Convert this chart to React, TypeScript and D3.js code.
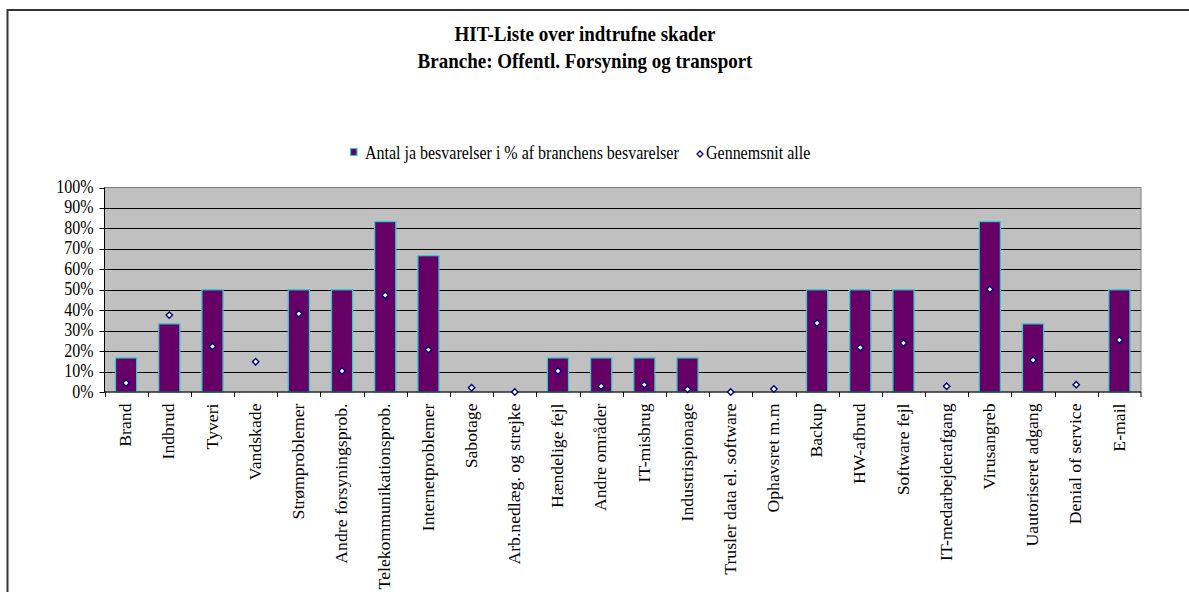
import React from "react";
import * as d3 from "d3";

const categories = [
  "Brand", "Indbrud", "Tyveri", "Vandskade", "Strømproblemer", "Andre forsyningsprob.",
  "Telekommunikationsprob.", "Internetproblemer", "Sabotage", "Arb.nedlæg. og strejke",
  "Hændelige fejl", "Andre områder", "IT-misbrug", "Industrispionage",
  "Trusler data el. software", "Ophavsret m.m", "Backup", "HW-afbrud", "Software fejl",
  "IT-medarbejderafgang", "Virusangreb", "Uautoriseret adgang", "Denial of service", "E-mail",
];
const branchValues = [16.67, 33.33, 50, 0, 50, 50, 83.33, 66.67, 0, 0, 16.67, 16.67, 16.67, 16.67, 0, 0, 50, 50, 50, 0, 83.33, 33.33, 0, 50];
const averageValues = [4.4, 37.6, 22.3, 14.8, 38.3, 10.3, 47.3, 20.7, 2.1, 0, 10.3, 2.8, 3.6, 1.3, 0, 1.5, 33.7, 21.7, 24.0, 2.8, 50.2, 15.6, 3.6, 25.4];
const yTicks = [0, 10, 20, 30, 40, 50, 60, 70, 80, 90, 100];
const titleLines = ["HIT-Liste over indtrufne skader", "Branche: Offentl. Forsyning og transport"];
const legendLabels = ["Antal ja besvarelser i % af branchens besvarelser", "Gennemsnit alle"];

const FONT = "'Liberation Serif', 'Times New Roman', serif";
const SY = 1.12;
const PURPLE = "#660066";
const TURQ = "#33CCCC";
const NAVY = "#000080";

export default function App() {
  const left = 104.5, right = 1141, top = 187.5, bottom = 392;
  const x = d3.scaleBand<string>().domain(categories).range([left, right]).padding(0);
  const y = d3.scaleLinear().domain([0, 100]).range([bottom, top]);
  const bw = x.bandwidth() * 0.49;
  const diamond = (cx: number, cy: number, r: number) =>
    `M${cx},${cy - r}L${cx + r},${cy}L${cx},${cy + r}L${cx - r},${cy}Z`;

  return (
    <svg width={1189} height={592} style={{ position: "absolute", left: 0, top: 0, background: "#fff" }}>
      <rect x={7.5} y={10} width={2000} height={2000} fill="#fff" stroke="#333" strokeWidth={2} />
      {titleLines.map((t, i) => (
        <text key={i} transform={`translate(585,${41 + i * 27}) scale(1,${SY})`} textAnchor="middle"
          fontFamily={FONT} fontWeight="bold" fontSize={19} fill="#000">{t}</text>
      ))}
      {/* legend */}
      <rect x={350.5} y={148.5} width={6.5} height={7} fill={PURPLE} stroke={TURQ} strokeWidth={1.2} />
      <text transform={`translate(365,159) scale(1,${SY})`} fontFamily={FONT} fontSize={16} fill="#000">{legendLabels[0]}</text>
      <path d={diamond(700, 154, 3)} fill="#fff" stroke={NAVY} strokeWidth={1.3} />
      <text transform={`translate(706,159) scale(1,${SY})`} fontFamily={FONT} fontSize={16} fill="#000">{legendLabels[1]}</text>
      {/* plot */}
      <rect x={left} y={top} width={right - left} height={bottom - top} fill="#C0C0C0" />
      {yTicks.filter(t => t > 0 && t < 100).map(t => (
        <line key={t} x1={left} x2={right} y1={Math.round(y(t)) + 0.5} y2={Math.round(y(t)) + 0.5} stroke="#000" strokeWidth={1} />
      ))}
      <rect x={left} y={top} width={right - left} height={bottom - top} fill="none" stroke="#808080" strokeWidth={1} />
      {categories.map((c, i) => branchValues[i] > 0 ? (
        <rect key={c} x={(x(c) as number) + x.bandwidth() / 2 - bw / 2} y={y(branchValues[i])}
          width={bw} height={bottom - y(branchValues[i])} fill={PURPLE} stroke={TURQ} strokeWidth={1.3} />
      ) : null)}
      {/* axes */}
      <line x1={left} x2={left} y1={top} y2={bottom} stroke="#000" strokeWidth={1} />
      <line x1={left} x2={right} y1={bottom} y2={bottom} stroke="#000" strokeWidth={1} />
      {yTicks.map(t => (
        <g key={t}>
          <line x1={left - 5} x2={left} y1={Math.round(y(t)) + 0.5} y2={Math.round(y(t)) + 0.5} stroke="#000" />
          <text transform={`translate(93.5,${y(t) + 5.5}) scale(1,${SY})`} textAnchor="end" fontFamily={FONT} fontSize={16} fill="#000">{t}%</text>
        </g>
      ))}
      {categories.map((c, i) => (
        <line key={"t" + i} x1={Math.round(x(c) as number) + 0.5} x2={Math.round(x(c) as number) + 0.5} y1={bottom} y2={bottom + 5} stroke="#000" />
      ))}
      <line x1={right} x2={right} y1={bottom} y2={bottom + 5} stroke="#000" />
      {categories.map((c, i) => (
        <path key={"d" + i} d={diamond((x(c) as number) + x.bandwidth() / 2, y(averageValues[i]), 3.2)}
          fill="#fff" stroke={NAVY} strokeWidth={1.4} />
      ))}
      {categories.map(c => (
        <text key={"l" + c}
          transform={`translate(${(x(c) as number) + x.bandwidth() / 2},403.5) scale(1,${SY}) rotate(-90)`}
          textAnchor="end" dominantBaseline="central" fontFamily={FONT} fontSize={15.8} fill="#000">{c}</text>
      ))}
    </svg>
  );
}
